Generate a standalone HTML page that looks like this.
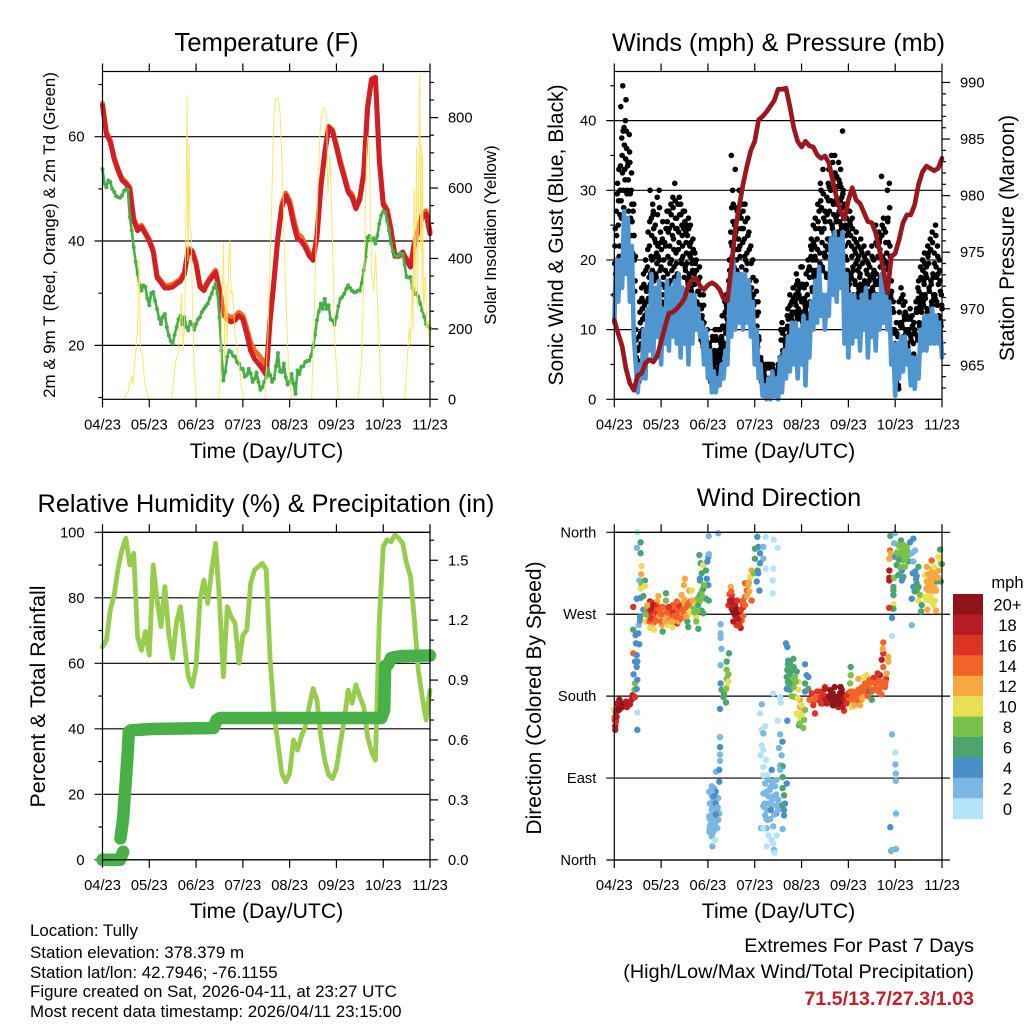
<!DOCTYPE html>
<html lang="en">
<head>
<meta charset="utf-8">
<title>Tully station meteogram</title>
<style>
html,body{margin:0;padding:0;background:#fff;}
svg{display:block;}
text{font-family:"Liberation Sans",Arial,sans-serif;fill:#000;}
</style>
</head>
<body>
<svg id="fig" xmlns="http://www.w3.org/2000/svg" width="1024" height="1024" viewBox="0 0 1024 1024">
<rect x="0" y="0" width="1024" height="1024" fill="#fff"/>
<text x="266.5" y="51" font-size="25.7" text-anchor="middle">Temperature (F)</text>
<text x="778.5" y="51" font-size="25.2" text-anchor="middle">Winds (mph) &amp; Pressure (mb)</text>
<text x="266" y="512" font-size="25.3" text-anchor="middle">Relative Humidity (%) &amp; Precipitation (in)</text>
<text x="779" y="506" font-size="25.3" text-anchor="middle">Wind Direction</text>

<text transform="translate(55,235) rotate(-90)" font-size="16.9" text-anchor="middle">2m &amp; 9m T (Red, Orange) &amp; 2m Td (Green)</text>
<text transform="translate(496,235) rotate(-90)" font-size="16.8" text-anchor="middle">Solar Insolation (Yellow)</text>
<text transform="translate(563,235) rotate(-90)" font-size="21" text-anchor="middle">Sonic Wind &amp; Gust (Blue, Black)</text>
<text transform="translate(1014,238) rotate(-90)" font-size="21" text-anchor="middle">Station Pressure (Maroon)</text>
<text transform="translate(45,696.5) rotate(-90)" font-size="21.4" text-anchor="middle">Percent &amp; Total Rainfall</text>
<text transform="translate(541,698) rotate(-90)" font-size="21" text-anchor="middle">Direction (Colored By Speed)</text>

<text x="266.5" y="458" font-size="21.2" text-anchor="middle">Time (Day/UTC)</text>
<text x="778.5" y="458" font-size="21.2" text-anchor="middle">Time (Day/UTC)</text>
<text x="266.5" y="918" font-size="21.2" text-anchor="middle">Time (Day/UTC)</text>
<text x="778.5" y="918" font-size="21.2" text-anchor="middle">Time (Day/UTC)</text>

<text x="30" y="936" font-size="16.9">Location: Tully</text>
<text x="30" y="958" font-size="16.9">Station elevation: 378.379 m</text>
<text x="30" y="978" font-size="16.9">Station lat/lon: 42.7946; -76.1155</text>
<text x="30" y="997" font-size="16.9">Figure created on Sat, 2026-04-11, at 23:27 UTC</text>
<text x="30" y="1017" font-size="16.9">Most recent data timestamp: 2026/04/11 23:15:00</text>

<text x="974" y="952" font-size="19.7" text-anchor="end">Extremes For Past 7 Days</text>
<text x="974" y="978" font-size="19.8" text-anchor="end">(High/Low/Max Wind/Total Precipitation)</text>
<text x="974" y="1005" font-size="19.7" font-weight="bold" text-anchor="end" style="fill:#c4202a">71.5/13.7/27.3/1.03</text>

<text x="1007.5" y="588" font-size="16.6" text-anchor="middle">mph</text>
<g id="layer"></g>
</svg>
<script>
const dayLabels = ['04/23','05/23','06/23','07/23','08/23','09/23','10/23','11/23'];
const tempTicks = [20,40,60];
const tempMinorTicks = [10,30,50,70];
const solarTicks = [0,200,400,600,800];
const solarMinorTicks = [50,100,150,250,300,350,450,500,550,650,700,750,850,900];
const windTicks = [0,10,20,30,40];
const windMinorTicks = [5,15,25,35,45];
const pressureTicks = [965,970,975,980,985,990];
const pressureMinorTicks = [963,964,966,967,968,969,971,972,973,974,976,977,978,979,981,982,983,984,986,987,988,989];
const humidityTicks = [0,20,40,60,80,100];
const humidityMinorTicks = [10,30,50,70,90];
const rainTicks = [0,0.3,0.6,0.9,1.2,1.5];
const rainMinorTicks = [0.1,0.2,0.4,0.5,0.7,0.8,1,1.1,1.3,1.4,1.6];
const directionTicks = [0,90,180,270,360];
const directionLabels = ['North','East','South','West','North'];
const speedLabels = ['20+','18','16','14','12','10','8','6','4','2','0'];
const speedColors = ['#8f1418','#b71c22','#dd3327','#f26328','#f8a841','#e8df55','#7ac04a','#4aa56e','#4a8fc7','#7bb7e3','#b4e2f8'];

/* 2-hourly samples, hour 0 to 168 */
const temp2m = [
66,60.5,59,55.7,53.5,51.7,51,50,44,42,
42.7,41.4,40,38,33,32,31,31,31.2,31.8,
32.3,33.7,38.2,37.9,35.6,31.2,30.5,32,33,34,
30.5,26,25,24.5,24.8,25.7,25,22.2,19,17.4,
16.5,15.5,14.3,24.8,32.4,40.7,46.5,48.7,47,43.3,
40.4,40,38.8,37.2,36.3,40.7,50.3,56.7,61.8,61,
58,54.8,52.2,49.4,48.4,46.2,48,52.9,65.6,71,
71.4,55.4,47,45.8,42,37.2,37.2,37.9,36.3,35,
39.5,42,44.6,45.2,41.4];
const temp9m = [
66.4,60.8,59.3,56,53.8,52,51.3,50.3,44.3,42.5,
43,41.7,40.3,38.3,33.3,32.4,31.5,31.5,31.7,32.2,
32.7,34,38.6,38.2,35.9,31.5,30.9,32.3,33.4,34.4,
30.8,26.6,25.8,25.3,25.6,26.3,25.7,23.3,20.6,19,
18.2,17.2,15,25.2,32.8,41,47,49.2,47.8,44.4,
41.4,40.8,39.4,37.8,36.7,41,50.6,57,62,61.3,
58.4,55.4,52.7,49.8,49,46.6,48.3,53.2,65.8,71,
71.2,55.7,47.4,46.1,42.3,37,37,37.7,36.6,35.3,
39.8,42.4,45.3,45.8,41.8];
/* dew point: hourly */
const dewPoint = [
53.8,51,50.3,51.6,51.3,50,49.4,48.6,48.4,48.3,48.7,49.6,50,49.8,44.6,42,38.8,36,33.7,31.5,
30.5,31.5,31.2,29,27.7,30,30.2,28.5,27,25.2,24.1,25.5,26,23.5,21.9,20.8,20.3,22,23.5,25,
25.7,24,25.4,23.5,22.9,24.5,24.1,23,24.1,25,25.4,26.4,27,27.5,28,29,29.9,31,31.8,30,
25.4,19,13.3,15,17.8,19,18.7,18,17.8,16.8,16.5,15.5,15.5,14,14.3,15.5,14.6,13,13.6,14.8,
13,11.5,12,13,13.9,15.5,14.3,13,13.6,16,18.5,15,14.9,16.5,13.9,12.5,13,14.5,12.7,10.7,
15.2,14.5,15.9,16,16.8,17,17.1,18,19.7,22,24.8,26.5,28,27,28.9,27,27.7,25,24.8,24,
25.4,27.5,28.9,29.3,29.9,30.8,31.5,31,30.5,30.2,30.2,30.5,30.5,32,34.4,37,40.7,41,40.1,40.5,
39.5,41,43.3,45,45.7,45.5,43.9,42,39.5,38,37.2,37,37.2,37.6,37.5,35.5,33.1,33,33.1,31,
29.9,30,29.3,28,26.7,25.5,24.1,23.7,23.2];
const solarHours = [
0,11.5,12,13.2,14.9,15.7,16.9,18,18.8,19.5,20.5,21.7,24,
35.4,37.6,38.8,39.7,40.5,41.4,42.3,43.4,43.8,44.5,44.8,45.5,46.2,46.9,48.2,
59.4,60.5,61.4,62.1,62.6,63.3,64,64.7,65.3,66,66.7,67.4,68.1,68.9,70,71.3,72.5,
83.3,85,86.7,87.9,88.9,90,91,92.4,93.7,95.3,97,
107.3,108.4,109.8,111.5,112.7,113.8,115,115.6,116.7,117.9,119.2,121,
131.2,132.9,134.1,135.5,136,136.8,138,139.2,140.1,140.9,142,142.8,144,
155.1,156.5,157.4,158,158.9,159.4,159.8,160.4,161.1,161.5,162,162.4,162.8,163.1,163.5,163.9,164.2,164.7,165.2,165.7,166.3,167.1,168];
const solarWatts = [
0,0,14,24,66,43,128,204,393,137,128,43,0,
0,109,128,204,299,137,251,863,393,725,488,469,251,109,0,
0,62,299,445,109,327,156,393,450,299,308,242,175,156,109,33,0,
0,204,536,801,853,856,820,630,346,109,0,
0,204,488,754,820,829,801,583,697,469,166,0,
0,109,356,706,745,735,355,308,417,299,156,14,0,
0,128,204,156,346,200,602,299,716,260,488,790,925,420,725,300,697,250,299,350,204,223,109];

/* gust: three readings per hour, hour 0 onward */
const gustMph = [
15,22,18, 27,20,31, 25,33,22, 30,42,26, 35,45,30, 39,33,40, 43,36,30, 34,27,38,
34,26,30, 28,21,27, 28,20,17, 10,6,4, 7,4,9, 14,11,8, 16,13,10, 18,14,12,
20,16,14, 19,24,16, 22,30,18, 26,20,28, 27,17,23, 25,18,21, 29,22,16, 30,20,24,
19,14,23, 15,20,12, 16,22,13, 27,18,24, 27,22,17, 28,20,25, 29,23,19, 31,26,21,
26,18,28, 24,29,16, 28,20,25, 22,27,15, 27,19,24, 21,25,17, 26,18,22, 25,16,21,
20,23,15, 18,21,13, 20,14,17, 17,11,19, 15,9,13, 12,8,15, 11,7,9, 9,6,10,
7,5,8, 5,3,6, 6,9,4, 5,7,10, 9,6,4, 10,7,5, 6,10,8, 9,12,7,
12,8,14, 10,15,13, 14,11,17, 20,16,24, 35,22,30, 28,19,25, 33,24,20, 27,18,23,
30,22,16, 26,19,28, 27,16,23, 28,20,15, 21,26,14, 24,17,13, 22,16,12, 20,15,10,
14,10,17, 12,8,14, 9,6,5, 6,3,4, 5,2,4, 3,1,5, 2,5,3, 5,3,2,
5,3,1, 5,2,4, 4,2,3, 4,1,3, 5,3,2, 6,10,4, 11,7,5, 10,6,8,
9,6,12, 13,8,10, 15,9,12, 14,10,16, 16,11,14, 15,18,12, 17,13,15, 16,12,19,
14,19,11, 12,16,14, 13,18,10, 15,20,12, 19,14,22, 23,16,20, 25,18,22, 26,20,17,
23,28,18, 27,21,31, 30,24,19, 33,26,21, 27,22,18, 29,23,31, 33,27,23, 30,35,25,
34,28,24, 35,30,26, 32,28,24, 34,27,31, 33,25,29, 38.5,30,26, 28,22,25, 26,20,16,
24,17,27, 25,18,22, 26,19,15, 23,17,21, 24,15,20, 22,16,19, 18,23,14, 21,16,13,
22,17,14, 20,15,18, 21,13,17, 19,15,12, 22,16,18, 20,14,17, 25,18,15, 22,17,24,
23,19,15, 32,25,19, 26,20,15, 24,17,21, 30,26,19, 31,22,15, 17,10,13, 14,7,10,
8,3,11, 5,9,2, 14,8,11, 16,11,8, 15,9,12, 14,10,7, 12,8,10, 10,6,13,
9,5,12, 4,8,11, 10,6,14, 13,9,16, 17,11,14, 19,13,15, 20,14,17, 21,15,18,
19,13,22, 21,16,12, 23,17,14, 24,18,15, 21,15,25, 19,14,22, 18,12,20, 17,11,15,
13];
/* further gust readings, three per hour, offset by ten minutes */
const gustMphLate = [
19.5,24.5,16.5, 23.5,29.5,17.5, 28.5,20.5,26.5, 33.5,28.5,37.5, 32.5,38.5,27.5, 36.5,31.5,34.5, 38.5,29.5,33.5, 31.5,25.5,35.5,
29.5,23.5,32.5, 25.5,20.5,23.5, 23.5,15.5,20.5, 8.5,5.5,3.5, 5.5,2.5,7.5, 12.5,9.5,7.5, 14.5,11.5,9.5, 16.5,13.5,11.5,
18.5,15.5,12.5, 21.5,14.5,17.5, 25.5,16.5,20.5, 23.5,18.5,26.5, 24.5,15.5,20.5, 22.5,17.5,19.5, 26.5,20.5,14.5, 27.5,18.5,22.5,
21.5,16.5,25.5, 17.5,13.5,22.5, 18.5,24.5,14.5, 25.5,20.5,16.5, 24.5,19.5,15.5, 26.5,18.5,23.5, 27.5,21.5,17.5, 28.5,24.5,19.5,
24.5,17.5,21.5, 22.5,26.5,15.5, 26.5,19.5,23.5, 20.5,24.5,17.5, 25.5,18.5,22.5, 19.5,23.5,16.5, 24.5,17.5,20.5, 22.5,15.5,19.5,
18.5,21.5,14.5, 16.5,19.5,12.5, 18.5,13.5,15.5, 15.5,10.5,17.5, 13.5,8.5,11.5, 10.5,7.5,13.5, 9.5,6.5,8.5, 8.5,5.5,7.5,
6.5,4.5,7.5, 4.5,2.5,5.5, 5.5,8.5,3.5, 4.5,6.5,8.5, 8.5,5.5,3.5, 8.5,6.5,4.5, 5.5,8.5,7.5, 8.5,10.5,6.5,
10.5,7.5,12.5, 9.5,13.5,11.5, 12.5,9.5,15.5, 18.5,15.5,22.5, 27.5,20.5,25.5, 25.5,17.5,23.5, 27.5,21.5,18.5, 24.5,16.5,21.5,
26.5,20.5,15.5, 24.5,17.5,22.5, 24.5,15.5,20.5, 25.5,18.5,14.5, 19.5,23.5,13.5, 21.5,15.5,12.5, 19.5,14.5,11.5, 17.5,13.5,9.5,
12.5,9.5,15.5, 10.5,7.5,12.5, 8.5,5.5,4.5, 5.5,2.5,3.5, 4.5,1.5,3.5, 2.5,0.5,4.5, 1.5,4.5,2.5, 4.5,2.5,1.5,
4.5,2.5,1.5, 4.5,1.5,3.5, 3.5,1.5,2.5, 3.5,1.5,2.5, 4.5,2.5,1.5, 5.5,8.5,3.5, 9.5,6.5,4.5, 8.5,5.5,7.5,
8.5,5.5,10.5, 11.5,7.5,9.5, 13.5,8.5,11.5, 12.5,9.5,14.5, 14.5,10.5,12.5, 13.5,16.5,11.5, 15.5,12.5,14.5, 14.5,11.5,16.5,
12.5,16.5,10.5, 11.5,14.5,13.5, 12.5,16.5,9.5, 13.5,18.5,11.5, 17.5,13.5,20.5, 21.5,15.5,18.5, 22.5,17.5,20.5, 24.5,18.5,16.5,
21.5,25.5,17.5, 24.5,19.5,28.5, 27.5,22.5,18.5, 29.5,24.5,20.5, 25.5,20.5,17.5, 26.5,21.5,28.5, 30.5,25.5,22.5, 28.5,32.5,24.5,
31.5,26.5,23.5, 32.5,28.5,25.5, 30.5,26.5,23.5, 31.5,25.5,28.5, 30.5,24.5,27.5, 29.5,27.5,24.5, 26.5,20.5,23.5, 24.5,18.5,15.5,
22.5,16.5,25.5, 23.5,17.5,20.5, 24.5,18.5,14.5, 21.5,16.5,19.5, 22.5,14.5,18.5, 20.5,15.5,17.5, 16.5,21.5,13.5, 19.5,15.5,12.5,
20.5,16.5,13.5, 18.5,14.5,16.5, 19.5,12.5,15.5, 17.5,14.5,11.5, 20.5,15.5,17.5, 18.5,13.5,16.5, 22.5,16.5,14.5, 20.5,16.5,22.5,
21.5,17.5,14.5, 23.5,20.5,17.5, 24.5,18.5,14.5, 22.5,16.5,19.5, 25.5,22.5,18.5, 27.5,20.5,14.5, 15.5,9.5,12.5, 12.5,6.5,9.5,
7.5,2.5,9.5, 4.5,7.5,1.5, 12.5,7.5,10.5, 14.5,10.5,7.5, 13.5,8.5,11.5, 12.5,9.5,6.5, 11.5,7.5,9.5, 9.5,5.5,11.5,
8.5,4.5,10.5, 3.5,6.5,9.5, 9.5,5.5,12.5, 12.5,8.5,14.5, 15.5,10.5,13.5, 17.5,12.5,14.5, 18.5,13.5,16.5, 19.5,14.5,17.5,
17.5,12.5,20.5, 19.5,15.5,11.5, 21.5,16.5,13.5, 22.5,17.5,14.5, 19.5,14.5,23.5, 17.5,13.5,20.5, 16.5,11.5,18.5, 15.5,10.5,13.5];
/* sonic wind: hourly */
const sonicMph = [
11,20,14,20,16,27,18,26,14,22,9,5,1,5,3,10,3,13,7,18,
6,16,9,17,5,13,8,17,7,16,9,17,8,18,6,16,8,15,5,15,
8,15,10,13,9,11,5,10,3,7,1,4,1,3,2,5,3,7,5,14,
9,20,10,18,11,18,10,18,11,17,9,14,5,10,3,5,0.5,2,0,3,
0,4,0.5,3,0,6,1,7,3,9,4,11,5,11,3,10,5,12,2,11,
6,14,10,17,11,19,12,15,10,15,12,23,15,24,14,23,16,24,8,18,
6,15,8,15,9,14,7,15,10,16,6,14,9,15,7,15,10,18,11,17,
10,14,5,8,0.5,8,3,9,4,9,5,7,2,6,1.5,6,3,10,7,12,
7,12,8,13,8,12,8,11,6];
/* pressure: 2-hourly */
const pressureMb = [
969,967.8,966.7,964.7,963.4,962.8,964.1,964.3,965.2,965.5,
965.3,965.8,967.1,968.4,969.6,969.7,970,970.4,970.9,972.1,
972.6,972.7,972,971.7,972.1,972.3,972.1,971.7,970.9,970.7,
973.7,977,979,981,982.6,984,984.8,986.7,987,987.4,
987.9,988.4,989.4,989.4,989.5,987.9,986,984.8,984.3,984.8,
984.4,984.3,983.6,983.3,983.5,982.9,981.3,979.8,978.6,977.9,
979.6,980.7,979.6,979.3,978.5,977.7,977.6,976.7,975.2,973.4,
971.4,974.6,974.9,976.1,977.6,978.3,978.3,979.2,981,982.1,
982.6,982.4,982.2,982.4,983.3];
const humidityPct = [
65,67,76.3,80.9,89,94.6,98.2,90,93.6,68,
64,69.7,62.5,90,79.3,71.2,83.4,69,61.5,72.7,
77.3,66,55.9,52.9,59,79.3,85.4,78.3,88.5,96.6,
79.3,55.9,77.3,74.2,72.2,60,68.6,70.2,84.4,88.5,
89.5,90.5,88.5,61,44.7,35.5,26.4,23.8,26.4,36.6,
33.5,37.6,40.6,46.7,52.3,48.8,37.6,30.4,25.9,24.8,
27.9,35.5,42.7,51.8,47.8,53.4,49.8,46.7,37.6,33,
30.4,73.2,95.6,97.7,97.1,99.2,98.2,96.6,90.5,86.5,
73.2,57.9,49.8,42.7,51.8];
const rainHours = [0,9,10.6,null,9.2,10.5,12,13,13.5,14.5,25,57,58.5,60.2,143,144.5,145,146.6,148,150,153,168];
const rainInches = [0,0,0.04,null,0.107,0.2,0.4,0.55,0.64,0.648,0.655,0.66,0.7,0.71,0.71,0.75,0.97,0.98,1.01,1.015,1.02,1.023];

const dirHours = [
0.5,0.5,0.2,0.2,0,0.9,1.2,1.5,2,2.6,3.2,3.9,5,6,7,8,8.9,9.4,10.6,10.3,11.5,11.8,11.8,
10.6,9.9,11.8,11.5,10.6,11.8,9.7,11.5,12.8,11.1,12.3,10.9,9.7,12.5,13.2,13.2,11.8,11.6,13.5,13.5,14,13.8,12.8,15.7,14,15.7,13.5,13.5,11.5,14.9,14.9,9.7,
16.6,18.3,19.1,17.4,18.6,17.4,19.7,18.3,20.3,20.9,22,22.6,23.1,21.7,22.6,23.4,24.4,24.8,25.5,26.5,26.5,27.7,28.2,26.8,28.5,29.4,29.9,30.6,31.3,31.6,32.8,32.3,33.7,34.5,35,35.7,36.2,35.7,35.4,37.4,37.9,38.5,39.1,39.7,39.7,40.5,41.9,41.4,43.1,42.6,43.9,44.8,45.6,43.6,44.3,44.8,45.6,47,48.2,47.7,47.4,48.2,47,48.4,43.9,44.8,42.6,45.6,48.4,48.5,53.3,43.9,46,
54.5,54.5,54.5,54.9,58.8,57.6,54.5,57.6,58.5,57.6,58.5,57.6,54.5,55,56.2,57.3,55.9,57.3,54.2,54.2,54.2,54.2,54.2,52.1,53.8,53.8,
49.9,51.1,48.7,52.1,50.8,53.3,51.6,52.8,49.9,48.7,51.6,53.8,49.9,51.6,49.1,52.8,50.8,48.7,49.9,51.6,50.3,53.3,
59.7,59,60.2,61,59.3,58.5,60.2,62.7,64.4,61.9,63.1,65.3,62.7,64.8,65.8,67,67.9,67,68.7,70.4,69.2,66.2,65.3,
70.4,69.6,71.6,72.1,73.5,74.7,73,74.4,73.3,73.8,72.1,76.4,77.6,81.5,81.2,81.2,77.6,76.4,83.8,81.7,74.7,73.8,
81.5,85,85.3,75.6,74.7,83.8,77.3,75.4,85,76.4,86.2,75.6,76.4,84.4,75,85.8,77.8,85,86.3,76.4,85,80.7,78.6,76.4,86.3,83.2,88.4,77.3,82.4,79.8,86.3,76.4,87,81.5,79,84.1,87.5,76.4,80.7,83.2,78.1,80.2,82.9,87,77.3,78.6,75.2,78.1,81.5,86.3,76.4,79,83.2,80.7,78.1,81.5,81.9,82.1,
88,88.7,97.8,89.2,91.8,90.1,88.7,90.9,93.5,88.4,90.1,92.6,89.2,91.8,94.4,90.1,94.4,98.6,99.5,97.8,99.5,97.8,88.4,92.6,95.2,95.2,93.5,96.1,95.2,88.7,94.7,96.9,97.3,97.8,
101.2,102.1,102.9,105.5,104.6,106.8,108,110.6,109.2,111.5,112.3,114,115.7,113.2,114.9,117.4,116.6,118.3,117.8,120,121.7,120.9,122.2,123.4,124.3,125.1,126.8,128.5,129.4,127.7,130.3,132,132,133.7,135.4,136.2,134.5,137.1,138.8,139.3,137.9,137.1,137.9,140.5,137.6,137.9,139.7,140.5,121.2,121.2,120.9,125.1,130.8,132.8,142.4,
141.5,143.9,141.4,141,141.7,141,141,141,143.4,143.9,143.4,143.1,143.1,143.1,143.1,143.1,140.9,142.4,
147,145.6,148.2,149.9,146.5,149.1,150.8,145.6,148.2,150.8,146.5,144.8,147.4,145.6,148.2,147.4,153.3,151.6,154.2,152.5,153.3,155.9,154.2,154.7,155,153.3,155,152.5,156.8,155.9,157.6,157.3,152.5,
167,166.2,167,167.9,162.7,160.2,163.6,166.2,159.3,161.9,164.4,160.2,162.7,165.3,167.4,161,163.6,159.3,164.4,161.9,160.5,165,163.6,
142.4,144.1,144.1,144.3,144.3,144.4,141.5,141.9,144.4,142.4,
17,18,19,20,21,22,23,24,25,26,27,28,29,30,31,32,33,34,35,36,37,38,16,21,24,20,27,33,36,30,
105,107,108,110,111,112,113,114,115,116,117,118,119,120,122,124,126,127,129,131,133,135,136,138,123,126,103,100,
61,62,64,66,60,
146,147,148,149,146,150,162,163,164,161,162,165,160,
90,91,89,92,
51,50,52,51,50,
16,17,18,19,20,21,22,23,24,25,26,27,28,29,30,31,32,33,34,35,36,37,38,39,40,41,42,43,44,45,
102,104,106,108,109,111,112,113,115,116,117,119,121,123,125,127,128,130,132,134,135,136,137,139,
60,61,63,63,65,66,67,68,69,64,
50,49,50,52,51,52,49,50,53,51,49,52,
78,79,80,81,82,83,77,78,80,79,84,81,86,87,
146,148,147,145,149,153,155,154,156,163,161,160,164,165,162,166,
89,90,91,92,93,94,96,95,89,91,
3,4,1,1.5,2.5,6.5];
const dirDegrees = [
143,147,154,157,165,152,157,165,170,176,168,170,172,174,172,171,176,181,179,187,188,162,143,
194,204,198,212,218,218,227,225,237,238,249,247,253,258,263,267,360,343,349,337,323,314,307,307,302,301,298,288,287,290,275,278,
276,284,283,273,267,264,269,255,253,264,284,276,271,267,290,264,258,251,262,293,285,276,274,267,265,278,256,269,264,274,276,260,278,291,282,276,309,302,267,262,256,296,284,280,296,277,267,282,254,287,291,295,298,335,326,315,324,318,333,328,309,302,287,285,307,274,273,271,356,336,359,309,302,
259,249,244,232,227,218,214,209,204,199,196,190,194,187,183,188,179,173,166,135,124,116,109,97,99,86,
81,79,75,69,66,68,62,56,55,48,49,51,42,40,38,35,35,31,26,22,15,44,
300,292,291,285,285,280,276,274,272,269,265,267,258,255,282,289,296,304,302,285,295,278,263,
318,311,315,331,318,337,306,296,355,344,342,331,320,320,307,293,355,344,343,352,326,315,
183,179,173,171,161,153,147,143,138,139,130,126,121,123,115,115,110,104,103,102,99,99,93,93,91,88,84,84,81,77,79,73,71,70,70,66,62,59,60,60,55,55,51,49,49,44,35,35,37,34,35,27,27,22,15,18,11,8,
238,234,215,219,221,216,209,209,207,201,201,201,194,194,196,187,187,203,201,194,188,185,188,179,176,168,161,161,157,153,148,145,154,165,
183,174,161,185,176,172,190,187,179,179,176,179,183,170,168,174,187,179,164,183,168,176,185,172,179,187,176,194,203,201,190,176,185,194,185,203,198,192,190,199,212,220,227,223,232,239,205,218,212,203,194,199,198,187,246,
356,359,340,331,337,318,310,307,348,333,310,300,296,291,281,276,277,266,
351,346,346,344,338,338,335,331,329,328,322,324,318,313,311,307,353,349,340,337,328,322,317,309,304,300,296,287,291,285,280,273,258,
341,333,327,325,329,322,318,318,313,311,313,306,304,306,306,296,296,289,285,285,275,274,280,
138,118,105,95,87,51,36,10,12,11,
270,272,275,270,268,272,268,262,272,270,268,262,270,262,278,270,268,272,270,280,278,270,270,280,278,260,258,280,270,280,
178,182,176,180,176,183,178,173,178,172,182,176,180,175,178,184,182,190,185,195,200,195,188,196,170,170,178,176,
272,280,265,285,295,
335,330,340,322,345,340,315,308,300,304,290,318,298,
205,198,215,190,
55,60,75,45,70,
262,280,262,265,280,262,278,275,270,278,262,272,278,262,272,268,284,262,265,275,286,268,282,272,285,272,262,280,285,290,
170,185,172,188,172,186,170,190,172,190,168,172,185,180,176,178,186,180,195,188,205,196,182,195,
283,262,275,285,275,268,280,290,305,258,
75,62,50,62,32,42,45,28,58,70,35,50,
75,62,80,66,50,72,62,45,45,88,55,85,60,55,
330,335,322,338,330,315,312,295,300,320,314,286,322,296,300,310,
208,194,208,212,196,178,170,150,196,180,
172,168,162,172,165,168];
const dirSpeed = [
18,18,16,14,10,16,18,18,20,20,20,18,18,18,18,18,18,18,16,8,4,0,4,
8,4,4,4,4,4,14,4,4,4,4,4,6,2,4,4,0,2,6,6,10,12,2,6,8,10,10,4,4,6,4,16,
8,18,16,14,18,12,14,10,10,12,12,18,18,14,12,14,12,6,14,6,8,16,18,12,14,14,10,12,18,14,14,16,16,12,12,14,12,12,12,6,6,12,16,12,10,8,10,10,6,8,6,8,6,6,6,6,10,6,4,4,4,4,6,6,6,6,8,6,2,2,2,4,8,
2,2,2,2,6,6,2,8,8,8,10,10,4,6,6,8,6,6,4,2,4,2,2,2,4,4,
2,2,2,4,2,2,4,4,2,2,4,2,2,2,2,2,2,2,2,0,2,2,
12,14,16,18,18,16,18,20,20,20,18,16,16,18,14,14,14,14,12,14,12,16,14,
12,10,8,6,6,4,4,4,4,4,6,2,0,1,1,0,0,2,0,0,4,4,
0,0,0,2,0,1,0,0,2,2,4,1,1,2,0,2,0,2,6,0,2,4,0,0,6,2,4,2,2,2,6,2,6,2,2,2,4,2,2,2,2,4,4,4,2,2,2,2,2,2,0,0,1,0,0,0,2,0,
4,4,4,4,6,6,6,6,6,6,6,8,8,8,10,6,10,4,4,6,6,4,4,8,12,12,10,10,10,4,6,8,8,8,
16,14,16,16,16,16,16,16,18,18,20,20,20,20,18,20,20,16,16,16,10,14,14,14,12,14,12,14,10,10,14,6,6,14,14,18,14,14,14,16,14,18,16,12,12,14,12,12,6,8,8,12,14,14,0,
6,2,14,12,12,18,18,18,2,4,8,6,6,6,10,6,16,4,
6,8,8,8,8,8,8,8,8,6,6,6,4,6,6,4,4,4,2,2,2,6,4,4,6,4,6,4,8,10,6,6,2,
6,10,10,6,14,12,12,12,10,12,12,12,12,6,6,12,12,10,10,10,12,12,10,
2,0,2,2,2,2,4,8,2,2,
14,16,18,16,14,16,12,14,12,14,12,16,14,12,14,14,16,14,12,12,14,10,8,14,12,12,10,16,14,14,
16,16,18,20,20,20,20,20,20,20,20,18,16,14,14,14,14,14,16,14,16,14,14,14,12,12,14,14,
20,18,18,14,14,
8,8,8,8,8,8,12,12,12,12,10,12,12,
6,8,6,8,
2,2,4,2,2,
10,12,14,16,18,14,16,14,14,14,12,14,16,12,16,14,14,12,14,14,12,12,14,10,12,8,8,6,8,8,
16,16,16,18,18,20,20,20,20,20,18,16,14,14,14,12,14,14,14,14,16,14,14,14,
18,18,20,16,16,14,14,12,12,16,
2,2,2,4,2,2,2,2,2,4,2,4,
2,2,2,2,2,2,2,2,2,2,2,2,6,4,
6,8,8,8,8,4,4,6,6,12,12,10,10,12,12,12,
6,6,6,6,8,10,10,8,6,8,
20,20,18,18,20,18];

const SVGNS = 'http://www.w3.org/2000/svg';
const layer = document.getElementById('layer');

function mk(tag, attrs, name) {
  const el = document.createElementNS(SVGNS, tag);
  for (const k in attrs) el.setAttribute(k, attrs[k]);
  
  
  layer.appendChild(el);
  return el;
}
function linear(d0, d1, r0, r1) {
  return v => r0 + (v - d0) * (r1 - r0) / (d1 - d0);
}
function pathOf(hours, values, xf, yf) {
  let d = '', pen = false;
  for (let i = 0; i < values.length; i++) {
    if (values[i] === null) { pen = false; continue; }
    d += (pen ? 'L' : 'M') + xf(hours[i]).toFixed(2) + ' ' + yf(values[i]).toFixed(2);
    pen = true;
  }
  return d;
}
function series(hours, values, xf, yf, color, width, name, opacity) {
  return mk('path', {d: pathOf(hours, values, xf, yf), fill: 'none', stroke: color, 'stroke-width': width,
    'stroke-linejoin': 'round', 'stroke-linecap': 'round', opacity: opacity === undefined ? 1 : opacity}, name);
}
function seq(n, step) {
  const a = [];
  for (let i = 0; i < n; i++) a.push(i * step);
  return a;
}
function vtick(x, y1, y2, name) {
  mk('line', {x1: x, x2: x, y1: y1, y2: y2, stroke: '#000', 'stroke-width': 1.2}, name);
}
function htick(x1, x2, y, name) {
  mk('line', {x1: x1, x2: x2, y1: y, y2: y, stroke: '#000', 'stroke-width': 1.2}, name);
}
function label(x, y, str, anchor, name) {
  const t = mk('text', {x: x, y: y, 'font-size': 14.7, 'text-anchor': anchor}, name);
  t.textContent = str;
}
function frame(p) {
  mk('rect', {x: p.L, y: p.T, width: p.R - p.L, height: p.B - p.T, fill: 'none', stroke: '#000', 'stroke-width': 1.2}, p.id + '-frame');
  dayLabels.forEach((lab, k) => {
    const x = p.x(k * 24);
    vtick(x, p.T - 8, p.T, p.id + '-top-tick');
    vtick(x, p.B, p.B + 8, p.id + '-bottom-tick');
    label(x, p.B + 30, lab, 'middle', p.id + '-x-tick-label');
  });
}
function panelAxes(p, leftTicks, leftMinor, leftScale, rightTicks, rightMinor, rightScale, rightFmt) {
  leftTicks.forEach(v => {
    const y = leftScale(v);
    htick(p.L - 8, p.R, y, p.id + '-gridline');
    label(p.L - 18, y + 5, String(v), 'end', p.id + '-left-tick-label');
  });
  leftMinor.forEach(v => htick(p.L - 4, p.L, leftScale(v), p.id + '-left-minor-tick'));
  rightTicks.forEach(v => {
    const y = rightScale(v);
    htick(p.R, p.R + 8, y, p.id + '-right-tick');
    label(p.R + 18, y + 5, rightFmt(v), 'start', p.id + '-right-tick-label');
  });
  rightMinor.forEach(v => htick(p.R, p.R + 4, rightScale(v), p.id + '-right-minor-tick'));
}

/* Temperature panel */
const p1 = {id: 'temperature', L: 102.5, R: 430, T: 71.5, B: 399.3};
p1.x = linear(0, 168, p1.L, p1.R);
const yTemp = linear(9.66, 72.5, p1.B, p1.T);
const ySolar = linear(0, 931, p1.B, p1.T);
const twoHourly = seq(85, 2);
panelAxes(p1, tempTicks, tempMinorTicks, yTemp, solarTicks, solarMinorTicks, ySolar, v => String(v));
series(twoHourly, temp9m, p1.x, yTemp, '#f16a27', 5, 'temperature-9m-line');
series(twoHourly, temp2m, p1.x, yTemp, '#d01f26', 5, 'temperature-2m-line');
series(seq(169, 1), dewPoint, p1.x, yTemp, '#49ae47', 2.6, 'dew-point-line');
dewPoint.forEach((v, i) => {
  mk('circle', {cx: p1.x(i), cy: yTemp(v), r: 2, fill: '#49ae47'}, 'dew-point-dot');
});
series(solarHours, solarWatts, p1.x, ySolar, '#fde35d', 1, 'solar-insolation-line', 0.9);
frame(p1);

/* Winds panel */
const p2 = {id: 'winds', L: 614.3, R: 942, T: 71.5, B: 399.3};
p2.x = linear(0, 168, p2.L, p2.R);
const yWind = linear(0, 47.05, p2.B, p2.T);
const yPressure = linear(962, 990.97, p2.B, p2.T);
panelAxes(p2, windTicks, windMinorTicks, yWind, pressureTicks, pressureMinorTicks, yPressure, v => String(v));
gustMph.forEach((v, i) => {
  mk('circle', {cx: p2.x(i / 3), cy: yWind(v), r: 2.8, fill: '#000'}, 'wind-gust-dot');
});
gustMphLate.forEach((v, i) => {
  mk('circle', {cx: p2.x(i / 3 + 1 / 6), cy: yWind(v), r: 2.8, fill: '#000'}, 'wind-gust-dot');
});
series(seq(169, 1), sonicMph, p2.x, yWind, '#4f96d0', 4.6, 'sonic-wind-line');
series(twoHourly, pressureMb, p2.x, yPressure, '#97191f', 4.7, 'station-pressure-line');
frame(p2);

/* Humidity panel */
const p3 = {id: 'humidity', L: 102.5, R: 430, T: 532.3, B: 859.8};
p3.x = linear(0, 168, p3.L, p3.R);
const yHumidity = linear(0, 100, p3.B, p3.T);
const yRain = linear(0, 1.64, p3.B, p3.T);
panelAxes(p3, humidityTicks, humidityMinorTicks, yHumidity, rainTicks, rainMinorTicks, yRain, v => v.toFixed(1));
series(twoHourly, humidityPct, p3.x, yHumidity, '#97cc4f', 4.8, 'relative-humidity-line');
series(rainHours, rainInches, p3.x, yRain, '#49b048', 12.5, 'total-rainfall-line');
frame(p3);

/* Wind direction panel */
const p4 = {id: 'direction', L: 614.3, R: 942, T: 532.3, B: 860};
p4.x = linear(0, 168, p4.L, p4.R);
const yDir = linear(0, 360, p4.B, p4.T);
directionTicks.forEach((v, i) => {
  htick(p4.L - 8, p4.R + 8, yDir(v), 'direction-gridline');
  label(p4.L - 18, yDir(v) + 5, directionLabels[i], 'end', 'direction-tick-label');
});
dirDegrees.forEach((v, i) => {
  const bin = Math.min(10, Math.floor(dirSpeed[i] / 2));
  mk('circle', {cx: p4.x(dirHours[i]), cy: yDir(v), r: 3.2, fill: speedColors[10 - bin]}, 'wind-direction-dot');
});
frame(p4);

/* Speed legend */
const yLegend = linear(0, speedLabels.length, 594, 818.7);
speedLabels.forEach((lab, i) => {
  mk('rect', {x: 953, y: yLegend(i), width: 30, height: yLegend(1) - yLegend(0) + 0.3, fill: speedColors[i]}, 'speed-legend-swatch');
  const t = mk('text', {x: 1007.5, y: yLegend(i) + 16.5, 'font-size': 16.6, 'text-anchor': 'middle'}, 'speed-legend-label');
  t.textContent = lab;
});
</script>
</body>
</html>
